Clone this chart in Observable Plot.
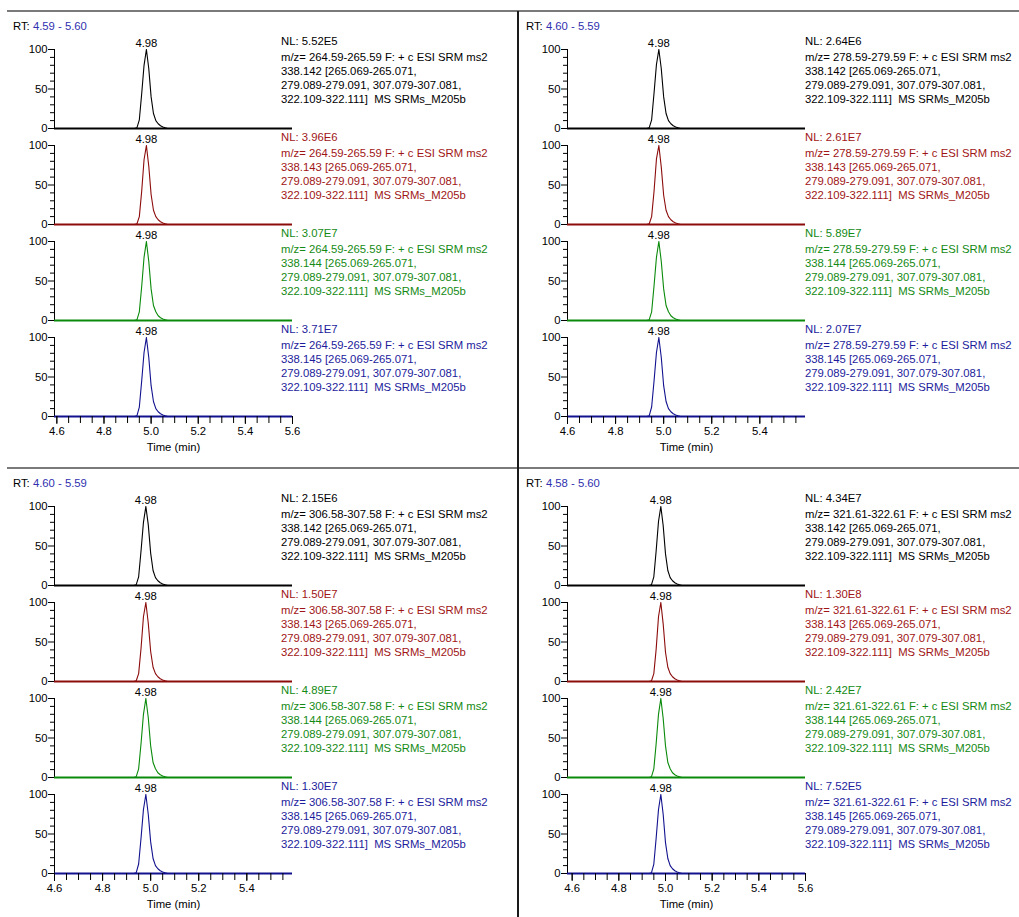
<!DOCTYPE html>
<html><head><meta charset="utf-8">
<script src="https://cdn.jsdelivr.net/npm/d3@7"></script>
<script src="https://cdn.jsdelivr.net/npm/@observablehq/plot@0.6"></script>
<style>
body{margin:0;background:#fff;}
#root{position:relative;width:1019px;height:917px;overflow:hidden;font-family:Arial,"Liberation Sans",sans-serif;font-size:11.3px;color:#000;}
.abs{position:absolute;white-space:pre;line-height:14px;}
.sv{position:absolute;}
</style></head><body><div id="root"></div>
<script>
// ---- data ----
const times = [4.58, 4.90, 4.93, 4.94, 4.95, 4.96, 4.97, 4.98, 4.99, 5.00, 5.01, 5.02, 5.03, 5.04, 5.05, 5.06, 5.07, 5.10, 5.60];
const intensTL = [
  [0,0,0,1,11,44,80,100,76,40,19,10,6,3.5,2,0.8,0,0,0],
  [0,0,0,1,10,42,82,100,74,38,18,10,6,3.5,2,0.8,0,0,0],
  [0,0,0,1,11,43,80,100,75,40,19,11,6,3.5,2,0.8,0,0,0],
  [0,0,0,1,12,45,81,100,75,39,19,10,6,3.5,2,0.8,0,0,0]
];
const intensTR = [
  [0,0,0,1,11,45,81,100,76,40,19,10,6,3.5,2,0.8,0,0,0],
  [0,0,0,1,10,42,83,100,73,37,18,10,6,3.5,2,0.8,0,0,0],
  [0,0,0,1,11,44,80,100,75,40,19,11,6,3.5,2,0.8,0,0,0],
  [0,0,0,1,12,45,81,100,75,39,19,10,6,3.5,2,0.8,0,0,0]
];
const intensBL = [
  [0,0,0,1,11,44,80,100,77,41,19,10,6,3.5,2,0.8,0,0,0],
  [0,0,0,1,10,42,82,100,74,38,18,10,6,3.5,2,0.8,0,0,0],
  [0,0,0,1,11,43,80,100,76,40,19,11,6,3.5,2,0.8,0,0,0],
  [0,0,0,1,12,45,81,100,75,40,19,10,6,3.5,2,0.8,0,0,0]
];
const intensBR = [
  [0,0,0,1,11,44,81,100,76,40,19,10,6,3.5,2,0.8,0,0,0],
  [0,0,0,1,10,41,82,100,73,37,18,10,6,3.5,2,0.8,0,0,0],
  [0,0,0,1,11,43,80,100,75,40,19,11,6,3.5,2,0.8,0,0,0],
  [0,0,0,1,12,45,81,100,75,39,19,10,6,3.5,2,0.8,0,0,0]
];
const panelIntens = [intensTL, intensTR, intensBL, intensBR];
const panelRT = [[4.59, 5.60], [4.60, 5.59], [4.60, 5.59], [4.58, 5.60]];
const rtLabels = ["4.59 - 5.60", "4.60 - 5.59", "4.60 - 5.59", "4.58 - 5.60"];
const mzRanges = ["264.59-265.59", "278.59-279.59", "306.58-307.58", "321.61-322.61"];
const nlTL = ["5.52E5", "3.96E6", "3.07E7", "3.71E7"];
const nlTR = ["2.64E6", "2.61E7", "5.89E7", "2.07E7"];
const nlBL = ["2.15E6", "1.50E7", "4.89E7", "1.30E7"];
const nlBR = ["4.34E7", "1.30E8", "2.42E7", "7.52E5"];
const panelNL = [nlTL, nlTR, nlBL, nlBR];
const precursors = ["338.142", "338.143", "338.144", "338.145"];
const productLines = ["[265.069-265.071,", "279.089-279.091, 307.079-307.081,", "322.109-322.111]  MS SRMs_M205b"];
const peakLabel = "4.98";
const peakTime = 4.98;
const xMajorTicks = [4.6, 4.8, 5.0, 5.2, 5.4, 5.6];
const xMinorTicks = [4.55,4.6,4.65,4.7,4.75,4.8,4.85,4.9,4.95,5.0,5.05,5.1,5.15,5.2,5.25,5.3,5.35,5.4,5.45,5.5,5.55,5.6];
const yMajorTicks = [0, 50, 100];
const yMinorTicks = [10, 20, 30, 40, 60, 70, 80, 90];
const traceColors = ["#000000", "#8c0c0c", "#0a8a0a", "#12128f"];
const textColors = ["#000000", "#a01515", "#138a13", "#1c1c9c"];

// ---- layout ----
const root = document.getElementById("root");
const panelOrigin = [[0,0],[513,0],[0,457],[513,457]];
const textX = [281, 805, 281, 805];
const rtX = [13, 526, 13, 526];

function addDiv(css, html){
  const d = document.createElement("div");
  d.className = "abs";
  Object.assign(d.style, css);
  d.innerHTML = html;
  root.appendChild(d);
  return d;
}

// frame lines
addDiv({left:"7px", top:"10px", width:"1012px", height:"2px", background:"#7a7a7a"}, "");
addDiv({left:"7px", top:"467px", width:"1012px", height:"2px", background:"#7a7a7a"}, "");
addDiv({left:"517px", top:"11px", width:"1.5px", height:"906px", background:"#1a1a1a"}, "");

panelOrigin.forEach(([px, py], p) => {
  const dom = panelRT[p];
  addDiv({left: rtX[p]+"px", top: (py+19)+"px"}, 'RT: <span style="color:#3030b0">' + rtLabels[p] + '</span>');
  for (let k = 0; k < 4; k++) {
    const isBottom = k === 3;
    const mt = 14, ph = 79, mb = isBottom ? 42 : 4;
    const vals = panelIntens[p][k];
    const data = times.map((t, i) => ({t, v: vals[i]}));
    const color = traceColors[k];
    const marks = [
      Plot.axisY({ticks: yMajorTicks, tickSize: 6, tickPadding: 1, fontSize: 11.3, label: null}),
      Plot.axisY({ticks: yMinorTicks, tickSize: 4, text: null, label: null}),
      Plot.ruleX([dom[0]], {y1: 0, y2: 100, stroke: "#000", strokeWidth: 1}),
      Plot.ruleY([0], {stroke: color, strokeWidth: 2}),
      Plot.line(data, {x: "t", y: "v", stroke: color, strokeWidth: 1.1, clip: true}),
      Plot.text([peakLabel], {x: () => peakTime, y: () => 100, dy: -6, text: d => d, fontSize: 11.3, fill: "#000"})
    ];
    if (isBottom) {
      const eps = 1e-6;
      marks.push(
        Plot.axisX({ticks: xMajorTicks.filter(t => t >= dom[0]-eps && t <= dom[1]+eps), tickSize: 8, tickPadding: 2, tickFormat: d3.format(".1f"), fontSize: 11.3, label: null}),
        Plot.axisX({ticks: xMinorTicks.filter(t => t >= dom[0]-eps && t <= dom[1]+eps), tickSize: 7, text: null, label: null}),
        Plot.text(["Time (min)"], {x: () => (dom[0]+dom[1])/2, y: () => 0, dy: 31, text: d => d, fontSize: 11.3, fill: "#000"})
      );
    }
    const svg = Plot.plot({
      width: 300, height: mt + ph + mb,
      marginLeft: 54, marginRight: 8, marginTop: mt, marginBottom: mb,
      x: isBottom ? {domain: dom} : {domain: dom, axis: null},
      y: {domain: [0, 100]},
      style: {fontFamily: 'Arial, "Liberation Sans", sans-serif', fontSize: "11.3px", background: "transparent", overflow: "visible", color: "#000"},
      marks
    });
    svg.classList.add("sv");
    const y100 = py + 49 + 96*k;
    svg.style.left = px + "px";
    svg.style.top = (y100 - mt) + "px";
    svg.style.position = "absolute";
    root.appendChild(svg);
  }
  // text blocks on top
  for (let k = 0; k < 4; k++) {
    const y100 = py + 49 + 96*k;
    const col = textColors[k];
    const lines = [
      ["NL: " + panelNL[p][k], -8],
      ["m/z= " + mzRanges[p] + " F: + c ESI SRM ms2", 8],
      [precursors[k] + " " + productLines[0], 22],
      [productLines[1], 36],
      [productLines[2], 50]
    ];
    lines.forEach(([txt, off]) => {
      addDiv({left: textX[p]+"px", top: (y100 + off - 7)+"px", color: col}, txt);
    });
  }
});
</script></body></html>
